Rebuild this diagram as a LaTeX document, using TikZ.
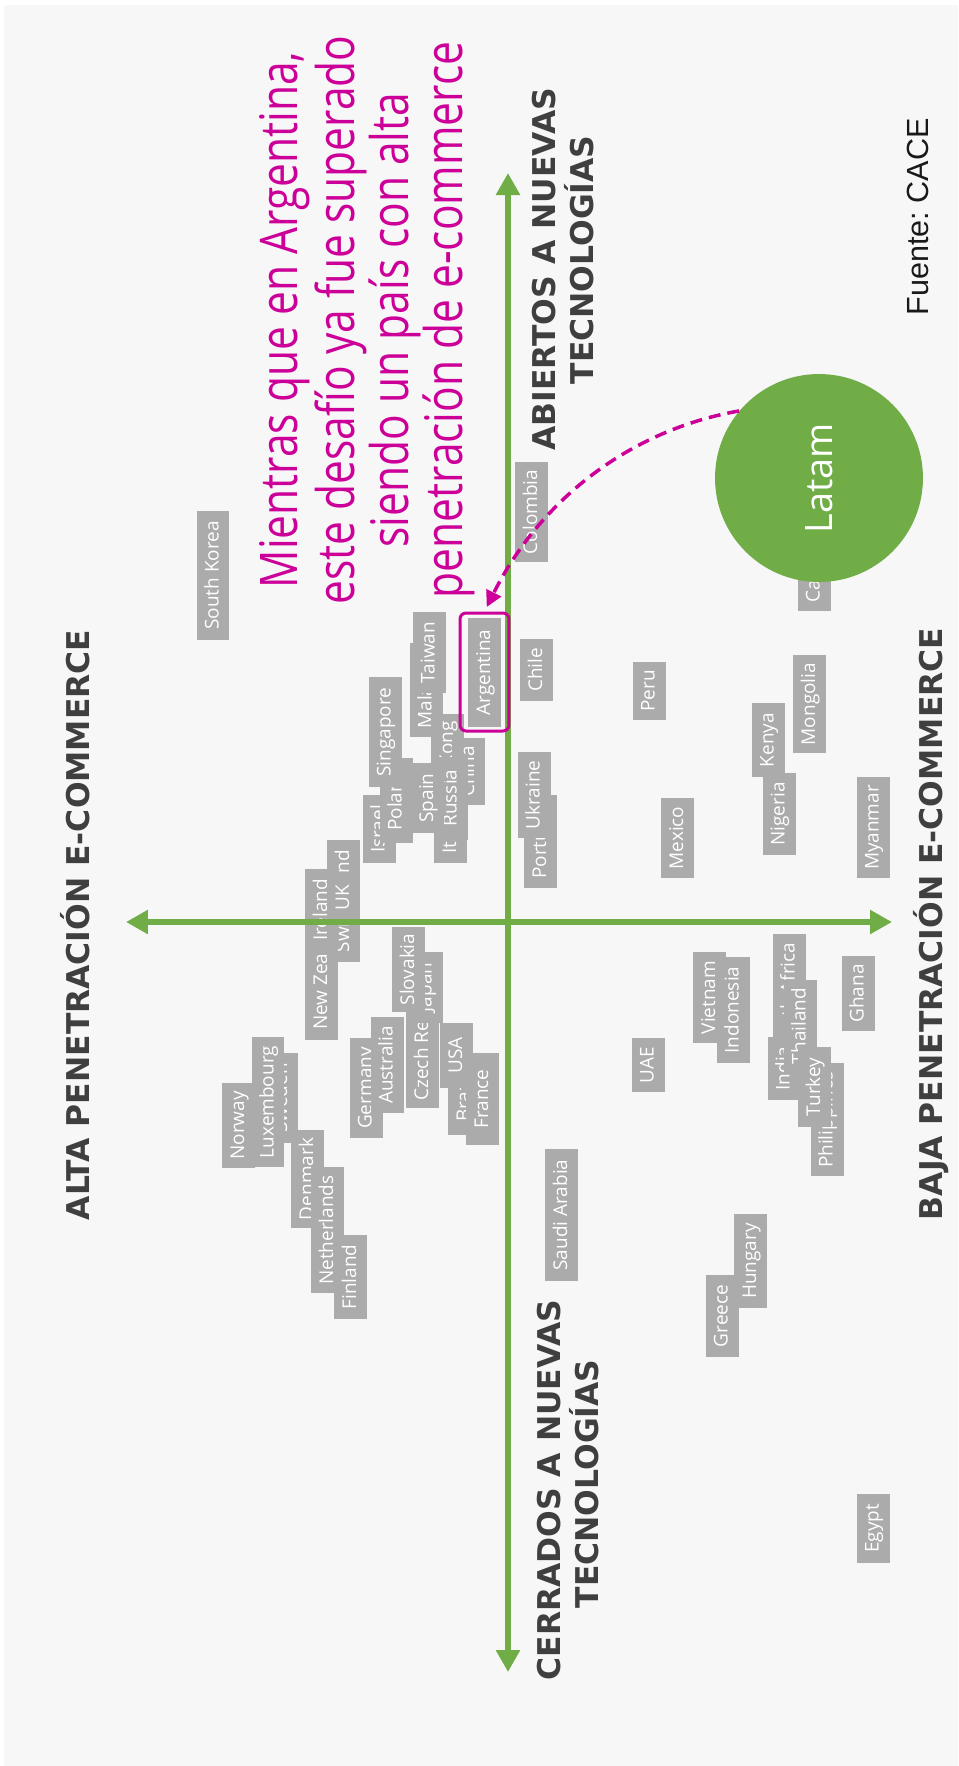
\documentclass[tikz,border=0pt]{standalone}
\usepackage{fontspec}
\usetikzlibrary{arrows.meta}
\frenchspacing
\newfontfamily\osans{Open Sans}
\newfontfamily\magfont[FakeStretch=0.82]{Open Sans}
\newfontfamily\headfont{DejaVu Sans}
\newfontfamily\arialfont{Liberation Sans}
\definecolor{axisgreen}{RGB}{112,173,71}
\definecolor{magenta2}{RGB}{204,0,153}
\definecolor{boxgray}{RGB}{171,171,171}
\definecolor{headgray}{RGB}{63,63,63}
\definecolor{bggray}{RGB}{247,247,247}
\tikzset{
  cty/.style={rotate=90, fill=boxgray, text=white, inner xsep=0pt, inner ysep=0pt,
    minimum height=0.66cm, text height=0.3cm, text depth=0.08cm,
    font=\osans\fontsize{10.8}{12}\selectfont},
  head/.style={rotate=90, anchor=base, inner sep=0pt, text=headgray,
    font=\headfont\bfseries\fontsize{17.86}{21}\selectfont},
  magline/.style={rotate=90, anchor=base, inner sep=0pt, text=magenta2,
    font=\magfont\fontsize{29.5}{31}\selectfont},
  axisline/.style={draw=axisgreen, line width=0.13cm,
    {Triangle[width=0.46cm,length=0.44cm]}-{Triangle[width=0.46cm,length=0.44cm]}},
}
\newcommand\ctry[5]{\node[cty, minimum width=#4*0.02cm] (#1) at (#2,#3) {#5};}
\begin{document}
\begin{tikzpicture}[x=0.02cm, y=-0.02cm]
\fill[white] (0,0) rectangle (958,1766);
\fill[bggray] (4,5) rectangle (958,1766);
\useasboundingbox (0,0) rectangle (958,1766);

% ---- countries, upper left cluster
\ctry{skorea}{213}{575.5}{129}{South Korea}
\ctry{malaysia}{426}{690}{94}{Malaysia}
\ctry{taiwan}{429}{652.5}{81}{Taiwan}
\ctry{hongkong}{447.5}{770}{113}{Hong Kong}
\ctry{china}{468.5}{771.5}{67}{China}
\ctry{italy}{450.5}{835.5}{55}{Italy}
\ctry{russia}{451}{798}{83}{Russia}
\ctry{spain}{427.5}{798}{70}{Spain}
\ctry{israel}{379}{829}{68}{Israel}
\ctry{poland}{396}{800}{85}{Poland}
\ctry{singapore}{385}{732}{110}{Singapore}
\ctry{newzealand}{321.5}{972.5}{135}{New Zealand}
\ctry{switzerland}{343.5}{901}{122}{Switzerland}
\ctry{ireland}{321.5}{910}{83}{Ireland}
\ctry{uk}{343.5}{897.5}{49}{UK}
\ctry{czech}{422.5}{1034}{148}{Czech Republic}
\ctry{japan}{426}{987.5}{71}{Japan}
\ctry{slovakia}{408.5}{969.5}{85}{Slovakia}
\ctry{germany}{366}{1088}{100}{Germany}
\ctry{australia}{387}{1065}{96}{Australia}
\ctry{brazil}{464.5}{1097.5}{75}{Brazil}
\ctry{usa}{456.5}{1055.5}{65}{USA}
\ctry{france}{482.5}{1099}{92}{France}
\ctry{sweden}{281.5}{1098}{90}{Sweden}
\ctry{norway}{238.5}{1125.5}{85}{Norway}
\ctry{luxembourg}{268}{1102}{130}{Luxembourg}
\ctry{denmark}{307.5}{1179}{98}{Denmark}
\ctry{netherlands}{327.5}{1230}{126}{Netherlands}
\ctry{finland}{350.5}{1277}{84}{Finland}
% ---- right side
\ctry{colombia}{531.5}{512}{100}{Colombia}
\ctry{argentina}{484.5}{672.5}{109}{Argentina}
\ctry{chile}{536.5}{670}{62}{Chile}
\ctry{peru}{649}{691}{58}{Peru}
\ctry{portugal}{540.5}{841.5}{93}{Portugal}
\ctry{ukraine}{534}{795}{86}{Ukraine}
\ctry{mexico}{677.5}{838}{80}{Mexico}
\ctry{canada}{814}{569}{84}{Canada}
\ctry{mongolia}{809.5}{704}{98}{Mongolia}
\ctry{kenya}{768}{740}{74}{Kenya}
\ctry{nigeria}{779}{814}{82}{Nigeria}
\ctry{myanmar}{873}{827.5}{101}{Myanmar}
% ---- lower right
\ctry{vietnam}{709.5}{997.5}{91}{Vietnam}
\ctry{indonesia}{733}{1010}{106}{Indonesia}
\ctry{uae}{648}{1065}{54}{UAE}
\ctry{southafrica}{789}{996.5}{125}{South Africa}
\ctry{india}{784}{1068.5}{63}{India}
\ctry{thailand}{800}{1026}{92}{Thailand}
\ctry{philippines}{827}{1119.5}{113}{Philippines}
\ctry{turkey}{814.5}{1087}{80}{Turkey}
\ctry{ghana}{858}{993.5}{75}{Ghana}
\ctry{saudi}{561.5}{1215}{132}{Saudi Arabia}
\ctry{hungary}{750.5}{1261}{94}{Hungary}
\ctry{greece}{722}{1316}{82}{Greece}
\ctry{egypt}{873}{1528.5}{69}{Egypt}

% ---- axes
\coordinate (vtop) at (508,173);
\coordinate (vbot) at (508,1672);
\coordinate (hleft) at (126,922);
\coordinate (hright) at (892,922);
\draw[axisline] (vbot) -- (vtop);
\draw[axisline] (hleft) -- (hright);

% ---- axis labels
\node[head] (alta) at (89,925) {ALTA PENETRACIÓN E-COMMERCE};
\node[head] (baja) at (942,924) {BAJA PENETRACIÓN E-COMMERCE};
\node[head] (abiertos1) at (555,269) {ABIERTOS A NUEVAS};
\node[head] (abiertos2) at (593,260) {TECNOLOGÍAS};
\node[head] (cerrados1) at (560,1490) {CERRADOS A NUEVAS};
\node[head] (cerrados2) at (598,1484) {TECNOLOGÍAS};

% ---- source
\node[rotate=90, anchor=base, inner sep=0pt, text=black!90,
  font=\arialfont\fontsize{17.4}{20}\selectfont] (fuente) at (928,217) {Fuente: CACE};

% ---- magenta statement
\node[magline] (msg1) at (297,320) {Mientras que en Argentina,};
\node[magline] (msg2) at (354,320) {este desafío ya fue superado};
\node[magline] (msg3) at (408,320) {siendo un país con alta};
\node[magline] (msg4) at (462,320) {penetración de e-commerce};

% ---- highlight of Argentina
\node[draw=magenta2, line width=0.06cm, rounded corners=0.12cm,
  minimum width=0.98cm, minimum height=2.36cm, inner sep=0pt] (arghl) at (484.5,672) {};

% ---- Latam bubble
\node[circle, fill=axisgreen, minimum size=4.16cm, inner sep=0pt, text=white,
  font=\osans\fontsize{21.5}{24}\selectfont] (latam) at (819,478) {\rotatebox{90}{Latam}};

% ---- dashed arrow
\draw[magenta2, line width=0.07cm, dash pattern=on 0.24cm off 0.14cm,
  -{Triangle[length=0.32cm,width=0.32cm]}, shorten >=0.1cm]
  (latam.140) .. controls (630,430) and (540,500) .. (arghl.north);
\end{tikzpicture}
\end{document}
